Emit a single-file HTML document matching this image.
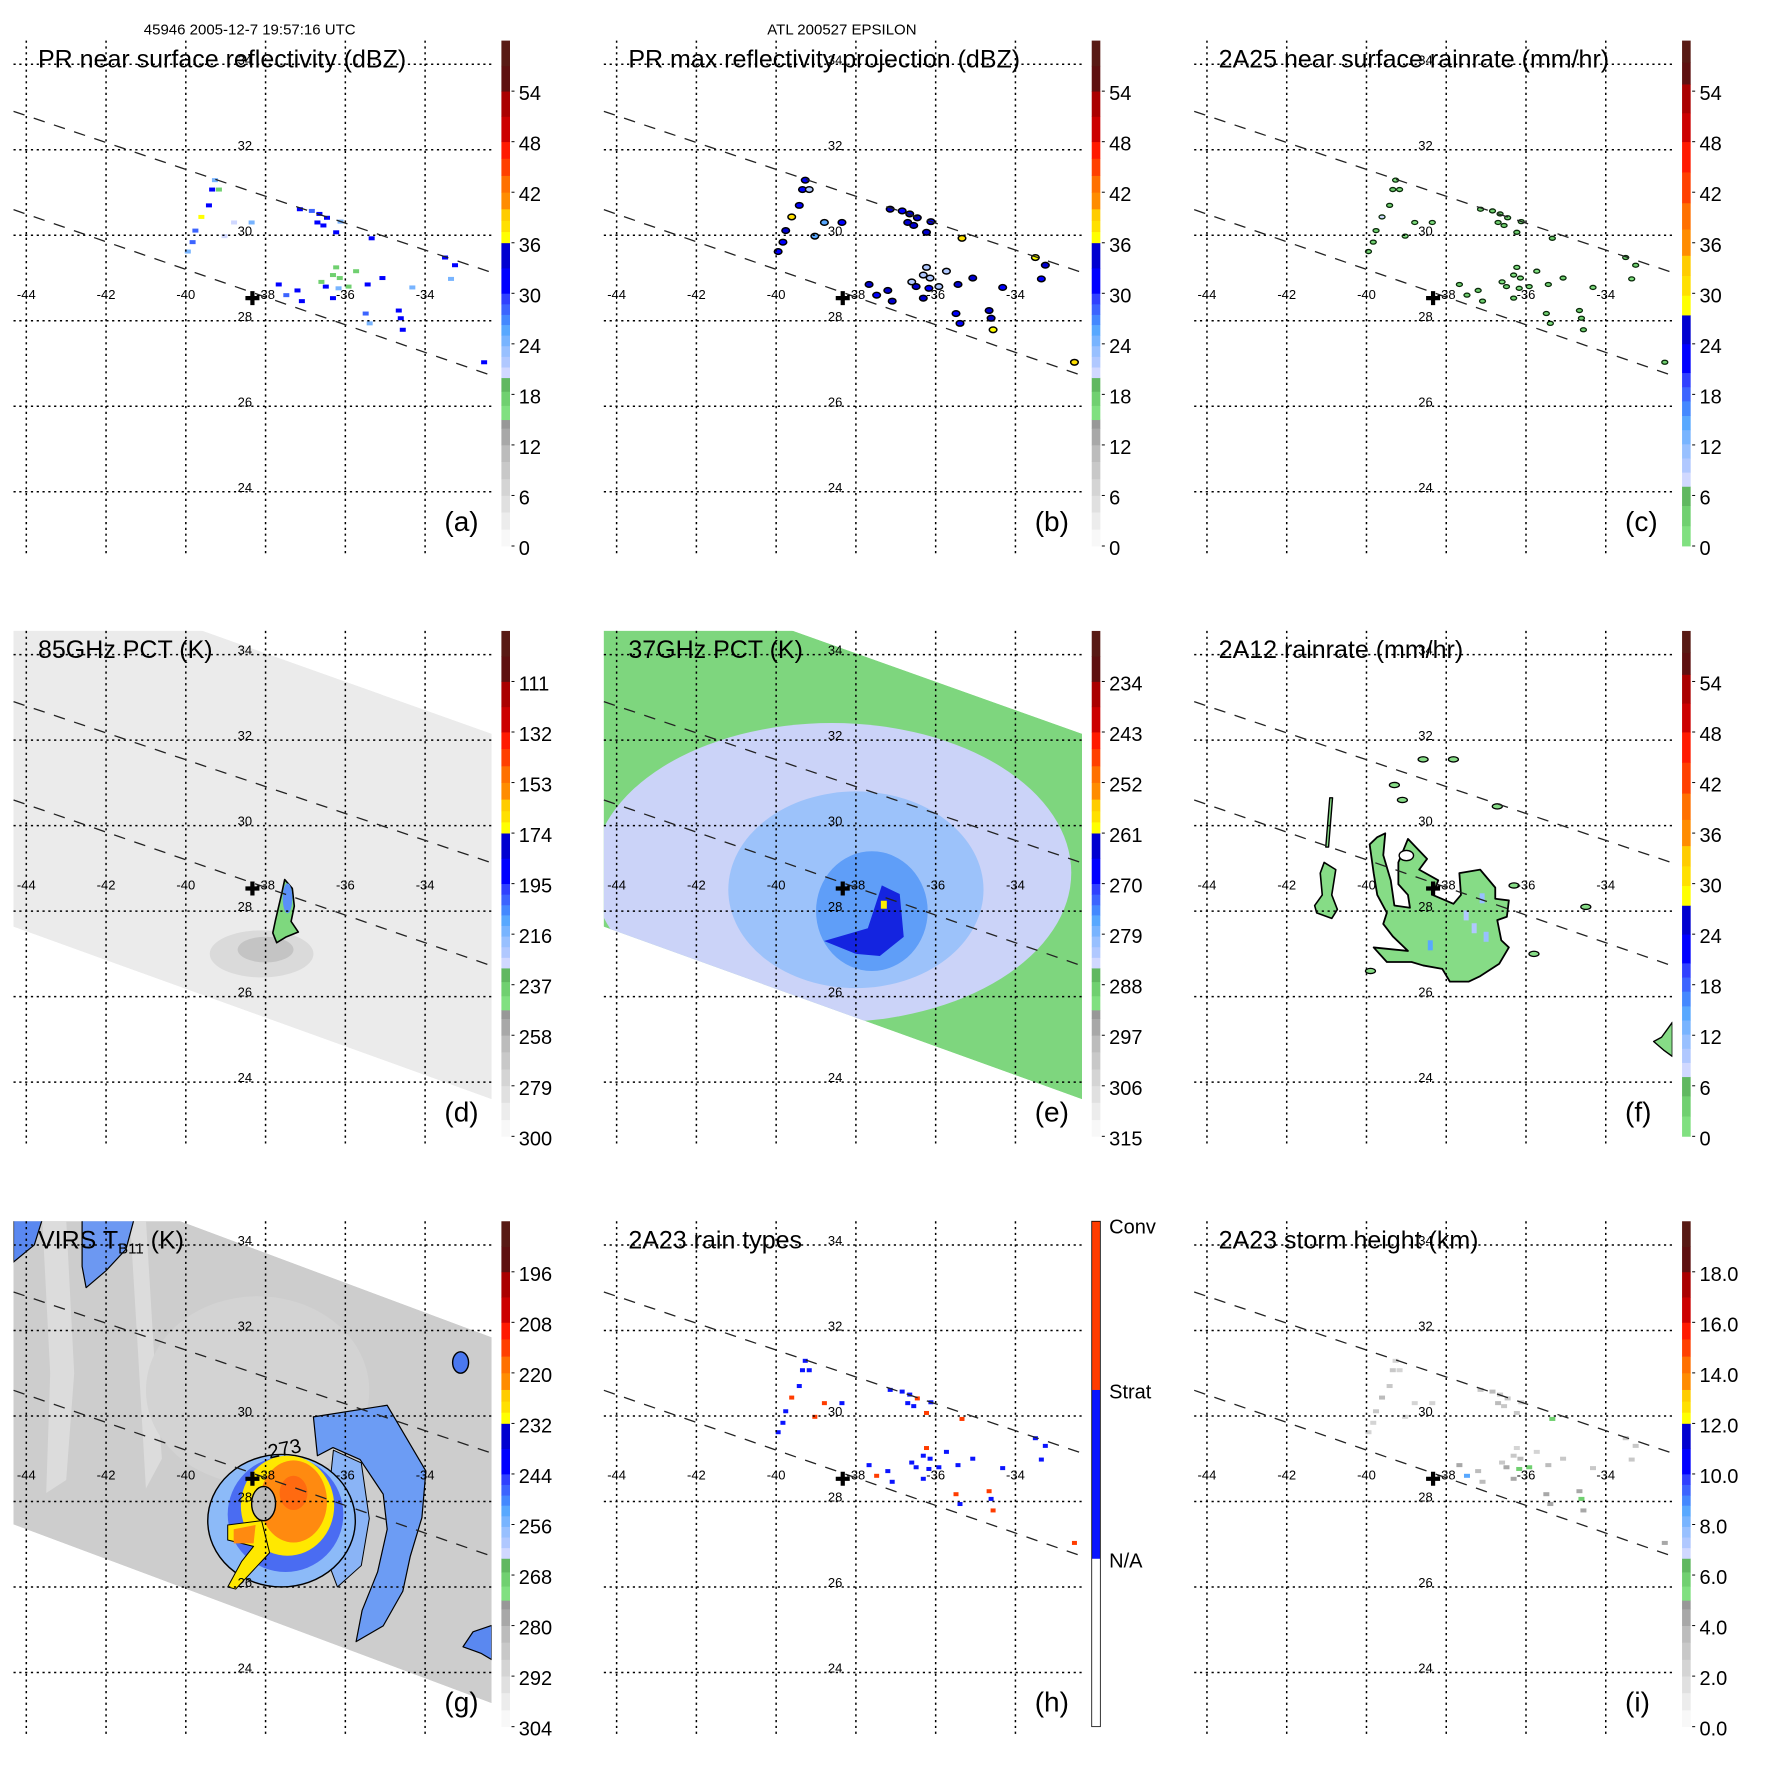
<!DOCTYPE html>
<html><head><meta charset="utf-8">
<style>
html,body{margin:0;padding:0;background:#fff;}
svg{display:block;font-family:"Liberation Sans",Arial,sans-serif;}
</style></head>
<body>
<svg id="fig" xmlns="http://www.w3.org/2000/svg" width="1771" height="1771" viewBox="0 0 1771 1771">
<rect x="0" y="0" width="1771" height="1771" fill="#ffffff"/>
</svg>
<script>
// ---------- data ----------
const lonTicks = [-44,-42,-40,-38,-36,-34];
const latTicks = [24,26,28,30,32,34];
const stormLon = -38.33, stormLat = 28.53;
const orbitUpper = [[-44.32,32.9],[-32.33,29.13]];
const orbitLower = [[-44.32,30.6],[-32.33,26.72]];
const swathMW = [[-44.4,36.16],[-32.33,32.15],[-32.33,23.6],[-44.4,27.66]];
const swathVIRS = [[-44.4,36.04],[-32.33,31.84],[-32.33,23.28],[-44.4,27.49]];

// PR cells (lon, lat, near-surface dBZ)
const cellLon = [-39.27,-39.34,-39.42,-39.61,-39.76,-39.83,-39.95,-39.17,-38.35,-38.79,-37.14,-36.84,-36.65,-36.46,-36.70,-36.55,-36.23,-36.12,-35.34,-33.50,-33.25,-33.35,-37.67,-37.48,-37.20,-37.09,-36.49,-36.31,-36.17,-36.23,-36.31,-36.14,-35.92,-35.44,-35.07,-35.49,-35.39,-34.66,-34.61,-34.56,-32.52,-34.32,-36.60,-35.73,-39.03];
const cellLat = [31.29,31.07,30.70,30.43,30.11,29.84,29.62,31.07,30.30,30.30,30.61,30.57,30.50,30.41,30.30,30.23,30.07,30.32,29.93,29.48,29.30,28.98,28.85,28.60,28.71,28.46,28.80,28.53,28.76,29.25,29.07,29.00,28.80,28.85,29.00,28.17,27.94,28.24,28.06,27.79,27.03,28.78,28.91,29.16,29.98];
const cellDbz = [24,30,30,36,28,28,24,18,24,20,30,28,30,30,30,30,30,24,30,30,30,24,30,28,30,30,30,30,24,18,18,18,18,30,30,28,24,30,30,30,30,24,18,18,20];
const cellMaxDbz = [30,32,32,38,33,32,30,22,30,26,33,32,34,33,33,33,34,30,38,36,33,30,33,32,34,34,33,33,30,22,22,22,22,33,33,32,30,33,33,36,38,30,22,22,26];
const cellRain = [2,4,4,8,3,3,2,1,2,1,4,3,4,4,4,4,4,2,4,4,4,2,4,3,4,4,4,4,2,1,1,1,1,4,4,3,2,4,4,4,4,2,1,1,1];
const cellType = [1,1,1,2,1,1,1,1,1,2,1,1,1,2,1,1,2,1,2,1,1,1,1,2,1,1,1,1,1,2,1,1,1,1,1,2,1,2,1,2,2,1,1,1,2];
const cellHeight = [2.5,3,3,3.5,3,2.5,2.5,2,2,2,3,3.5,3,3,3.5,3,3,2.5,6,3,3,3,4,8.5,3.5,3.5,4,4,6,2.5,3,3.5,6,3.5,3,4,4,4,6,4,4,3,3,2.5,2];

// 85 GHz storm blob
const d85Blob = [[-37.52,28.74],[-37.33,28.53],[-37.28,28.12],[-37.36,27.76],[-37.18,27.51],[-37.48,27.40],[-37.72,27.26],[-37.82,27.49],[-37.75,27.80],[-37.69,28.03],[-37.60,28.39]];
// 37 GHz depression zones: [lon, lat, rxDeg, ryDeg]
const e37Zones = [[-38.6,28.9,6.0,3.5],[-38.0,28.5,3.2,2.3],[-37.6,28.0,1.4,1.4]];
const e37Core = [[-38.8,27.3],[-37.7,27.6],[-37.35,28.6],[-36.9,28.4],[-36.8,27.4],[-37.4,26.95],[-38.0,27.0]];
// 2A12 rain polygons
const f12Main = [[-38.96,29.69],[-38.48,29.22],[-38.68,28.97],[-38.20,28.72],[-38.34,28.38],[-37.82,28.17],[-37.63,28.38],[-37.67,28.89],[-37.15,28.97],[-36.77,28.55],[-36.77,28.29],[-36.43,28.25],[-36.48,27.87],[-36.72,27.79],[-36.62,27.32],[-36.43,27.15],[-36.67,26.77],[-37.15,26.48],[-37.44,26.35],[-37.91,26.35],[-38.10,26.65],[-38.58,26.73],[-38.87,26.81],[-39.49,26.81],[-39.82,27.15],[-38.96,27.07],[-39.34,27.41],[-39.58,27.70],[-39.49,27.96],[-39.73,28.38],[-39.82,28.89],[-39.92,29.56],[-39.73,29.73],[-39.53,29.82],[-39.58,29.31],[-39.39,28.72],[-39.30,28.13],[-38.91,28.08],[-38.96,28.38],[-39.20,28.63],[-39.20,29.14]];
const f12West = [[-41.06,29.14],[-40.77,28.97],[-40.87,28.38],[-40.73,28.04],[-40.87,27.83],[-41.25,27.96],[-41.30,28.13],[-41.11,28.38],[-41.16,28.89]];
const f12Arc = [[-40.92,30.65],[-40.85,30.65],[-40.95,29.5],[-41.02,29.5]];
const f12Edge = [[-32.33,25.4],[-32.6,25.05],[-32.8,24.95],[-32.55,24.75],[-32.33,24.6]];
const f12SpotLon = [-38.58,-37.82,-39.3,-39.1,-36.72,-34.5,-36.3,-35.8,-39.9];
const f12SpotLat = [31.55,31.55,30.95,30.6,30.45,28.1,28.6,27.0,26.6];
const f12BlueLon = [-37.1,-37.3,-38.4,-37.0,-37.5];
const f12BlueLat = [28.3,27.6,27.2,27.4,27.9];
const f12BlueVal = [12,10,14,12,10];
// VIRS features
const gBands = [[[-43.6,34.6],[-43.0,34.6],[-42.8,31],[-43.0,28.5],[-43.5,28.2],[-43.4,31]],[[-41.4,34.6],[-41.0,34.6],[-40.8,31.5],[-40.6,29],[-41.0,28.3],[-41.2,31.5]]];
const gSpiral = [[-36.80,29.98],[-34.95,30.25],[-33.98,28.71],[-34.08,27.62],[-34.37,26.72],[-34.56,25.90],[-35.05,25.09],[-35.73,24.72],[-35.58,25.45],[-35.19,26.35],[-34.95,27.35],[-35.05,28.17],[-35.63,28.98],[-36.31,29.26],[-36.70,29.07]];
const gInner = [[-36.3,29.2],[-35.6,28.9],[-35.4,27.6],[-35.6,26.5],[-36.2,26.0],[-36.6,27.0],[-36.4,28.3]];
const gNW = [[-44.32,34.6],[-43.6,34.6],[-43.8,34.0],[-44.32,33.6]];
const gNW2 = [[-42.6,34.6],[-41.3,34.6],[-41.5,33.9],[-42.0,33.4],[-42.5,33.0],[-42.6,33.5]];
const gSE = [[-32.33,25.1],[-32.8,24.95],[-33.05,24.6],[-32.6,24.45],[-32.33,24.3]];
const gStormEll = [[-37.6,27.55,1.85,1.55,'#8cbaf8'],[-37.5,27.7,1.45,1.35,'#4a6cf2'],[-37.45,27.9,1.17,1.17,'#ffe800'],[-37.3,28.0,0.84,0.96,'#ff8a10'],[-37.3,28.2,0.35,0.4,'#ff6a10']];
const gArmYellow = [[-38.95,27.45],[-38.1,27.55],[-37.9,26.8],[-38.4,26.3],[-38.75,25.95],[-38.95,26.0],[-38.6,26.6],[-38.3,26.95],[-38.95,27.1]];
const gArmOrange = [[-38.8,27.35],[-38.25,27.45],[-38.3,27.02],[-38.8,27.02]];
const gEye = [-38.05,27.95,0.3,0.4];

// colorbar palettes: [bottomFraction, colour]
const palStd = [[0,'#f8f8f8'],[0.033,'#ececec'],[0.067,'#e0e0e0'],[0.10,'#d4d4d4'],[0.133,'#c8c8c8'],[0.167,'#bcbcbc'],[0.20,'#a8a8a8'],[0.233,'#989898'],[0.25,'#80e080'],[0.278,'#70d070'],[0.306,'#60b860'],[0.333,'#d0d8ff'],[0.354,'#b0c8ff'],[0.375,'#98c0ff'],[0.396,'#78b4ff'],[0.417,'#58a8ff'],[0.438,'#4488ff'],[0.458,'#3c64ff'],[0.479,'#3040ff'],[0.50,'#0000ff'],[0.55,'#0000d0'],[0.60,'#ffff00'],[0.622,'#ffe000'],[0.644,'#ffcc00'],[0.667,'#ff8c00'],[0.70,'#ff7000'],[0.733,'#ff4000'],[0.767,'#ff1a00'],[0.80,'#cc0000'],[0.85,'#aa0000'],[0.90,'#5e1010'],[0.95,'#581a14']];
const palRain = [[0,'#80e080'],[0.04,'#70d070'],[0.08,'#60b860'],[0.118,'#d0d8ff'],[0.146,'#b0c8ff'],[0.174,'#98c0ff'],[0.202,'#78b4ff'],[0.23,'#58a8ff'],[0.258,'#4488ff'],[0.287,'#3c64ff'],[0.315,'#3040ff'],[0.343,'#0000ff'],[0.4,'#0000d0'],[0.457,'#ffff00'],[0.496,'#ffe000'],[0.535,'#ffcc00'],[0.575,'#ff8c00'],[0.627,'#ff7000'],[0.679,'#ff4000'],[0.74,'#ff1a00'],[0.8,'#cc0000'],[0.857,'#aa0000'],[0.914,'#5e1010'],[0.957,'#581a14']];
const palType = [[0,'#ffffff'],[0.333,'#0a14ff'],[0.667,'#ff3c00']];
const cbLabelsA = ['0','6','12','18','24','30','36','42','48','54'];
const cbLabelsD = ['300','279','258','237','216','195','174','153','132','111'];
const cbLabelsE = ['315','306','297','288','279','270','261','252','243','234'];
const cbLabelsG = ['304','292','280','268','256','244','232','220','208','196'];
const cbLabelsI = ['0.0','2.0','4.0','6.0','8.0','10.0','12.0','14.0','16.0','18.0'];
const cbLabelsH = ['N/A','Strat','Conv'];
const cbFracH = [0.333,0.667,1.0];

// ---------- helpers ----------
const NS = 'http://www.w3.org/2000/svg';
const svg = document.getElementById('fig');
const STEP = 590.33;
const MAP = {x0:13.5, x1:491.7, y0:40.6, y1:554.4};
function X(lon){ return 26.3 + (lon + 44) * 39.88; }
function Y(lat){ return 64.3 + (34 - lat) * 42.75; }
function mk(tag, parent){ const e = document.createElementNS(NS, tag); parent.appendChild(e); return e; }
function geo(e, o){ for (const k in o) e.setAttribute(k, o[k]); return e; }
function pts(arr){ return arr.map(p => X(p[0]).toFixed(1) + ',' + Y(p[1]).toFixed(1)).join(' '); }
function palColor(pal, f){ let c = pal[0][1]; for (const s of pal) if (f >= s[0]) c = s[1]; return c; }
let clipN = 0;

function makePanel(cfg){
  const g = mk('g', svg);
  
  
  geo(g, {transform: 'translate(' + (cfg.col*STEP).toFixed(2) + ',' + (cfg.row*STEP).toFixed(2) + ')'});
  const cid = 'clip' + (clipN++);
  const cp = mk('clipPath', g); cp.setAttribute('id', cid);
  geo(mk('rect', cp), {x:MAP.x0, y:MAP.y0, width:MAP.x1-MAP.x0, height:MAP.y1-MAP.y0});
  const map = mk('g', g);
  
  
  geo(map, {'clip-path':'url(#' + cid + ')'});
  if (cfg.swath){
    const sid = 'sclip' + (clipN++);
    const sc = mk('clipPath', g); sc.setAttribute('id', sid);
    geo(mk('polygon', sc), {points:pts(cfg.swath)});
    const inner = mk('g', map);
    
    
    geo(inner, {'clip-path':'url(#' + sid + ')'});
    cfg.draw(inner);
  } else cfg.draw(map);

  // grid
  const grid = mk('g', g);
  
  
  for (const lon of lonTicks){
    const l = mk('line', grid);
    
    
    geo(l, {x1:X(lon), x2:X(lon), y1:MAP.y0, y2:MAP.y1, stroke:'#000', 'stroke-width':1.5, 'stroke-dasharray':'2.2,3.6'});
  }
  for (const lat of latTicks){
    const l = mk('line', grid);
    
    
    geo(l, {x1:MAP.x0, x2:MAP.x1, y1:Y(lat), y2:Y(lat), stroke:'#000', 'stroke-width':1.5, 'stroke-dasharray':'2.2,3.6'});
  }
  for (const ob of [orbitUpper, orbitLower]){
    const l = mk('line', g);
    
    
    geo(l, {x1:X(ob[0][0]), y1:Y(ob[0][1]), x2:X(ob[1][0]), y2:Y(ob[1][1]), stroke:'#222', 'stroke-width':1.3, 'stroke-dasharray':'11.6,9.7'});
  }
  for (const lon of lonTicks){
    const t = mk('text', g);
    
    
    geo(t, {x:X(lon), y:Y(28.51), 'font-size':13, 'text-anchor':'middle', fill:'#000'});
    t.textContent = String(lon);
  }
  for (const lat of latTicks){
    const t = mk('text', g);
    
    
    geo(t, {x:X(-38.52), y:Y(lat), 'font-size':13, 'text-anchor':'middle', fill:'#000'});
    t.textContent = String(lat);
  }
  const cr = mk('path', g);
  
  
  const cx = X(stormLon), cy = Y(stormLat);
  geo(cr, {d:'M'+(cx-7)+','+cy+'H'+(cx+7)+'M'+cx+','+(cy-7)+'V'+(cy+7), stroke:'#000', 'stroke-width':4.2});
  const tt = mk('text', g);
  
  
  geo(tt, {x:38, y:67.7, 'font-size':25, fill:'#000'});
  if (cfg.titleSub){
    const a = mk('tspan', tt); a.textContent = cfg.title[0];
    const b = mk('tspan', tt); geo(b, {'font-size':15, dy:5}); b.textContent = cfg.titleSub;
    const c = mk('tspan', tt); geo(c, {dy:-5}); c.textContent = cfg.title[1];
  } else tt.textContent = cfg.title;
  const lt = mk('text', g);
  
  
  geo(lt, {x:444.4, y:531, 'font-size':28, fill:'#000'});
  lt.textContent = '(' + cfg.id + ')';
  if (cfg.caption){
    const ct = mk('text', g);
    
    
    geo(ct, {x:cfg.caption[1], y:34.5, 'font-size':15, 'text-anchor':'middle', fill:'#000'});
    ct.textContent = cfg.caption[0];
  }
  const cb = mk('g', g);
  
  
  const by0 = 40.6, by1 = 546, bh = by1 - by0;
  const pal = cfg.pal;
  for (let i = 0; i < pal.length; i++){
    const f0 = pal[i][0], f1 = i + 1 < pal.length ? pal[i+1][0] : 1;
    const r = mk('rect', cb);
    
    
    geo(r, {x:501.4, y:(by1 - f1*bh).toFixed(2), width:8.6, height:((f1-f0)*bh+0.4).toFixed(2), fill:pal[i][1]});
  }
  if (cfg.id === 'h'){
    const o = mk('rect', cb);
    
    
    geo(o, {x:501.4, y:by0, width:8.6, height:bh, fill:'none', stroke:'#000', 'stroke-width':0.8});
  }
  const labs = cfg.labels;
  for (let i = 0; i < labs.length; i++){
    const f = cfg.labelFrac ? cfg.labelFrac[i] : i * 0.1;
    const yy = by1 - f*bh;
    if (!cfg.labelFrac){
      const tk = mk('line', cb);
      
      
      geo(tk, {x1:511.5, x2:514.5, y1:yy, y2:yy, stroke:'#000', 'stroke-width':1});
    }
    const t = mk('text', cb);
    
    
    geo(t, {x:518.8, y:(yy + 9 + (cfg.labelFrac && f === 1 ? 3 : 0)).toFixed(1), 'font-size':20, fill:'#000'});
    t.textContent = labs[i];
  }
}

function swathPoly(parent, sw, fill, name){
  const p = mk('polygon', parent);
  
  
  geo(p, {points:pts(sw), fill:fill});
  return p;
}
function ell(parent, lon, lat, rx, ry, fill, name, stroke){
  const e = mk('ellipse', parent);
  
  
  geo(e, {cx:X(lon), cy:Y(lat), rx:rx*39.88, ry:ry*42.75, fill:fill});
  if (stroke) geo(e, {stroke:stroke, 'stroke-width':1.4});
  return e;
}
function poly(parent, arr, fill, name, stroke, sw){
  const p = mk('polygon', parent);
  
  
  geo(p, {points:pts(arr), fill:fill});
  if (stroke) geo(p, {stroke:stroke, 'stroke-width':sw || 1.5, 'stroke-linejoin':'round'});
  return p;
}

// ---------- panels ----------
makePanel({id:'a', col:0, row:0, title:'PR near surface reflectivity (dBZ)', caption:['45946 2005-12-7 19:57:16 UTC', 249.7], pal:palStd, labels:cbLabelsA,
  draw(m){
    for (let i = 0; i < cellLon.length; i++){
      const r = mk('rect', m);
      
      
      geo(r, {x:X(cellLon[i])-3, y:Y(cellLat[i])-2, width:6, height:4, fill:palColor(palStd, cellDbz[i]/60)});
    }
  }});
makePanel({id:'b', col:1, row:0, title:'PR max reflectivity projection (dBZ)', caption:['ATL 200527 EPSILON', 251.6], pal:palStd, labels:cbLabelsA,
  draw(m){
    for (let i = 0; i < cellLon.length; i++){
      const e = mk('ellipse', m);
      
      
      geo(e, {cx:X(cellLon[i]), cy:Y(cellLat[i]), rx:3.8, ry:2.8, fill:palColor(palStd, cellMaxDbz[i]/60), stroke:'#000', 'stroke-width':1.5});
    }
  }});
makePanel({id:'c', col:2, row:0, title:'2A25 near surface rainrate (mm/hr)', pal:palRain, labels:cbLabelsA,
  draw(m){
    for (let i = 0; i < cellLon.length; i++){
      const e = mk('ellipse', m);
      
      
      geo(e, {cx:X(cellLon[i]), cy:Y(cellLat[i]), rx:3, ry:2, fill:palColor(palRain, cellRain[i]/60), stroke:'#0a2a0a', 'stroke-width':1.3});
    }
  }});
makePanel({id:'d', col:0, row:1, title:'85GHz PCT (K)', pal:palStd, labels:cbLabelsD, swath:swathMW,
  draw(m){
    swathPoly(m, swathMW, '#ebebeb', 'tmi-swath');
    ell(m, -38.1, 27.0, 1.3, 0.55, '#dadada', 'cold-smudge');
    ell(m, -38.0, 27.1, 0.7, 0.3, '#c4c4c4', 'cold-smudge-core');
    poly(m, d85Blob, '#7ed87e', 'pct85-scattering-blob', '#000', 1.6);
    ell(m, -37.45, 28.3, 0.12, 0.35, '#5a90f8', 'pct85-blue-core');
  }});
makePanel({id:'e', col:1, row:1, title:'37GHz PCT (K)', pal:palStd, labels:cbLabelsE, swath:swathMW,
  draw(m){
    swathPoly(m, swathMW, '#7ed67e', 'tmi-swath');
    const cols = ['#cbd3f8','#9cc2fa','#5f9ef8'];
    for (let i = 0; i < e37Zones.length; i++){
      const z = e37Zones[i];
      ell(m, z[0], z[1], z[2], z[3], cols[i], 'pct37-zone');
    }
    poly(m, e37Core, '#1424e0', 'pct37-core');
    const y = mk('rect', m);
    
    
    geo(y, {x:X(-37.3)-3, y:Y(28.15)-4, width:6, height:8, fill:'#ffee00'});
  }});
makePanel({id:'f', col:2, row:1, title:'2A12 rainrate (mm/hr)', pal:palRain, labels:cbLabelsA,
  draw(m){
    poly(m, f12Main, '#86dc86', 'rain-area-main', '#000', 1.8);
    poly(m, f12West, '#86dc86', 'rain-area-west', '#000', 1.6);
    poly(m, f12Arc, '#86dc86', 'rain-arc', '#000', 1.4);
    poly(m, f12Edge, '#86dc86', 'rain-area-edge', '#000', 1.4);
    for (let i = 0; i < f12SpotLon.length; i++){
      const e = mk('ellipse', m);
      
      
      geo(e, {cx:X(f12SpotLon[i]), cy:Y(f12SpotLat[i]), rx:5, ry:2.6, fill:'#86dc86', stroke:'#000', 'stroke-width':1.3});
    }
    for (let i = 0; i < f12BlueLon.length; i++){
      const r = mk('rect', m);
      
      
      geo(r, {x:X(f12BlueLon[i])-2.5, y:Y(f12BlueLat[i])-5, width:5, height:10, fill:palColor(palRain, f12BlueVal[i]/60)});
    }
    ell(m, -39.0, 29.3, 0.18, 0.12, '#fff', 'rain-eye-ring', '#000');
  }});
makePanel({id:'g', col:0, row:2, title:['VIRS T',' (K)'], titleSub:'B11', pal:palStd, labels:cbLabelsG, swath:swathVIRS,
  draw(m){
    swathPoly(m, swathVIRS, '#cdcdcd', 'virs-swath');
    for (const b of gBands) poly(m, b, '#dcdcdc', 'cloud-band-light');
    ell(m, -38.2, 30.6, 2.8, 2.2, '#d3d3d3', 'cirrus-shield');
    poly(m, gNW, '#5a88f0', 'cold-cloud-nw', '#000', 1.2);
    poly(m, gNW2, '#6c98f2', 'cold-cloud-nw2', '#000', 1.2);
    poly(m, gSpiral, '#6c9cf4', 'spiral-band', '#000', 1.2);
    poly(m, gInner, '#8ab4f6', 'inner-band', '#000', 1.0);
    poly(m, gSE, '#5a88f0', 'cold-cloud-se', '#000', 1.2);
    ell(m, -33.11, 31.25, 0.2, 0.25, '#4a78f0', 'cold-cloud-ne', '#000');
    for (let i = 0; i < gStormEll.length; i++){
      const s = gStormEll[i];
      ell(m, s[0], s[1], s[2], s[3], s[4], 'storm-cloud-top', i === 0 ? '#000' : null);
    }
    poly(m, gArmYellow, '#ffe800', 'cold-arm', '#000', 1.0);
    poly(m, gArmOrange, '#ff8a10', 'cold-arm-core');
    ell(m, gEye[0], gEye[1], gEye[2], gEye[3], '#bcbcbc', 'eye-region', '#000');
    const t = mk('text', m);
    
    
    geo(t, {x:X(-37.9), y:Y(29.0), 'font-size':20, fill:'#000', transform:'rotate(-12 '+X(-37.9)+' '+Y(29.0)+')'});
    t.textContent = '273';
  }});
makePanel({id:'h', col:1, row:2, title:'2A23 rain types', pal:palType, labels:cbLabelsH, labelFrac:cbFracH,
  draw(m){
    for (let i = 0; i < cellLon.length; i++){
      const r = mk('rect', m);
      
      
      geo(r, {x:X(cellLon[i])-2.5, y:Y(cellLat[i])-2, width:5, height:4, fill:cellType[i] === 2 ? '#ff3c00' : '#0a14ff'});
    }
  }});
makePanel({id:'i', col:2, row:2, title:'2A23 storm height (km)', pal:palStd, labels:cbLabelsI,
  draw(m){
    for (let i = 0; i < cellLon.length; i++){
      const r = mk('rect', m);
      
      
      geo(r, {x:X(cellLon[i])-3, y:Y(cellLat[i])-2, width:6, height:4, fill:palColor(palStd, cellHeight[i]/20)});
    }
  }});
</script>
</body></html>
